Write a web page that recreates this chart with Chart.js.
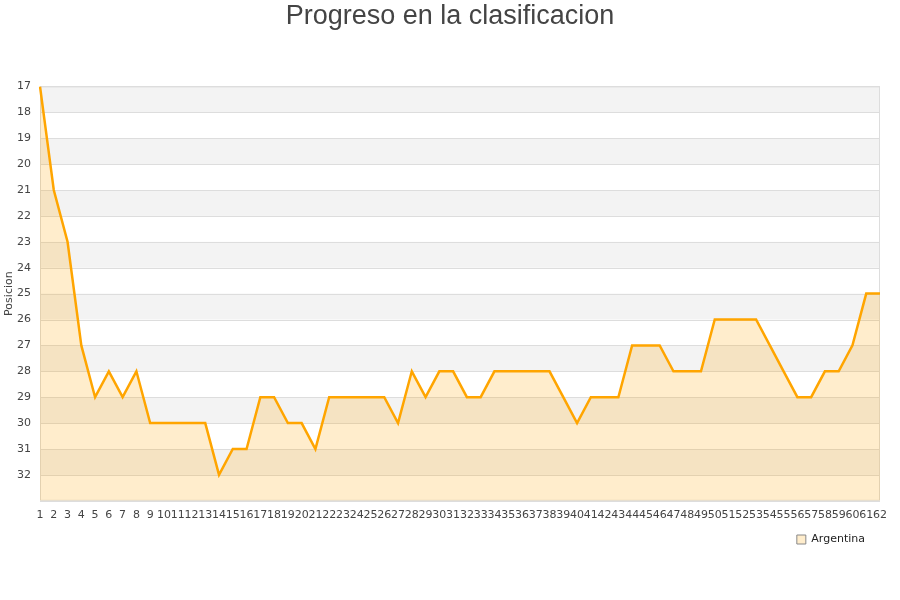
<!DOCTYPE html>
<html>
<head>
<meta charset="utf-8">
<script src="https://cdn.jsdelivr.net/npm/chart.js@4/dist/chart.umd.min.js"></script>
<style>
  html, body { margin: 0; padding: 0; background: #fff; }
  #wrap { width: 900px; height: 600px; }
</style>
</head>
<body>
<div id="wrap"><canvas id="clasificacion"></canvas></div>
<script>
// jornadas 1..62
const jornadas = []
for (let i = 1; i <= 62; i++) jornadas.push(String(i))

// posicion de Argentina en cada jornada
const posiciones = [
  17, 21, 23, 27, 29, 28, 29, 28, 30, 30,
  30, 30, 30, 32, 31, 31, 29, 29, 30, 30,
  31, 29, 29, 29, 29, 29, 30, 28, 29, 28,
  28, 29, 29, 28, 28, 28, 28, 28, 29, 30,
  29, 29, 29, 27, 27, 27, 28, 28, 28, 26,
  26, 26, 26, 27, 28, 29, 29, 28, 28, 27,
  25, 25
]

const posMin = 17
const posMax = 33

// franjas grises alternas detras del grafico
const stripes = {
  id: 'stripes',
  afterLayout(chart) {
    // la leyenda queda un poco separada del borde derecho
    if (chart.legend) chart.legend.right -= 11
  },
  beforeDatasetsDraw(chart) {
    const { ctx, chartArea, scales } = chart
    const y = scales.y
    ctx.save()
    ctx.fillStyle = '#f3f3f3'
    for (let v = posMin; v < posMax; v += 2) {
      const top = y.getPixelForValue(v)
      const bot = y.getPixelForValue(v + 1)
      ctx.fillRect(chartArea.left, top, chartArea.right - chartArea.left, bot - top)
    }
    ctx.strokeStyle = '#dddddd'
    ctx.lineWidth = 1
    for (let v = posMin; v <= posMax; v++) {
      const py = Math.round(y.getPixelForValue(v)) + 0.5
      ctx.beginPath()
      ctx.moveTo(chartArea.left, py)
      ctx.lineTo(chartArea.right, py)
      ctx.stroke()
    }
    ctx.strokeRect(chartArea.left + 0.5, chartArea.top + 0.5,
      chartArea.right - chartArea.left - 1, chartArea.bottom - chartArea.top - 1)
    ctx.restore()
  }
}

const ctx = document.getElementById('clasificacion')
new Chart(ctx, {
  type: 'line',
  data: {
    labels: jornadas,
    datasets: [{
      label: 'Argentina',
      data: posiciones,
      borderColor: '#ffa500',
      backgroundColor: 'rgba(255,165,0,0.2)',
      borderWidth: 2.5,
      pointRadius: 0,
      tension: 0,
      fill: { value: posMax }
    }]
  },
  options: {
    responsive: true,
    maintainAspectRatio: false,
    animation: false,
    layout: { padding: { left: 1, right: 1, top: 0, bottom: 45 } },
    plugins: {
      title: {
        display: true,
        text: 'Progreso en la clasificacion',
        color: '#444',
        font: { family: 'Liberation Sans', size: 27, weight: 'normal' },
        padding: { top: 0, bottom: 54 }
      },
      legend: {
        position: 'bottom',
        align: 'end',
        fullSize: false,
        labels: {
          boxWidth: 9,
          boxHeight: 9,
          color: '#222',
          padding: 4,
          font: { family: 'DejaVu Sans', size: 11 },
          generateLabels(chart) {
            const ds = chart.data.datasets[0]
            return [{
              text: ds.label,
              fillStyle: 'rgba(255,165,0,0.2)',
              strokeStyle: '#888',
              lineWidth: 1,
              fontColor: '#222',
              datasetIndex: 0
            }]
          }
        }
      },
      tooltip: { enabled: false }
    },
    scales: {
      x: {
        grid: { display: false, drawTicks: false },
        border: { display: false },
        offset: false,
        ticks: {
          autoSkip: false,
          maxRotation: 0,
          minRotation: 0,
          padding: 8,
          color: '#444',
          font: { family: 'DejaVu Sans', size: 11 }
        }
      },
      y: {
        reverse: true,
        min: posMin,
        max: posMax,
        grid: { display: false, drawTicks: false },
        border: { display: false },
        afterFit(scale) { scale.width = 39 },
        title: {
          display: true,
          text: 'Posicion',
          color: '#444',
          font: { family: 'DejaVu Sans', size: 11 },
          padding: 2
        },
        ticks: {
          stepSize: 1,
          padding: 9,
          color: '#444',
          font: { family: 'DejaVu Sans', size: 11 },
          callback: v => (v === posMax ? '' : v)
        }
      },
      // margen derecho vacio, para que el titulo quede centrado
      yRight: {
        position: 'right',
        display: true,
        grid: { display: false, drawTicks: false },
        border: { display: false },
        ticks: { display: false },
        afterFit(scale) { scale.width = 19 }
      }
    }
  },
  plugins: [stripes]
})
</script>
</body>
</html>
